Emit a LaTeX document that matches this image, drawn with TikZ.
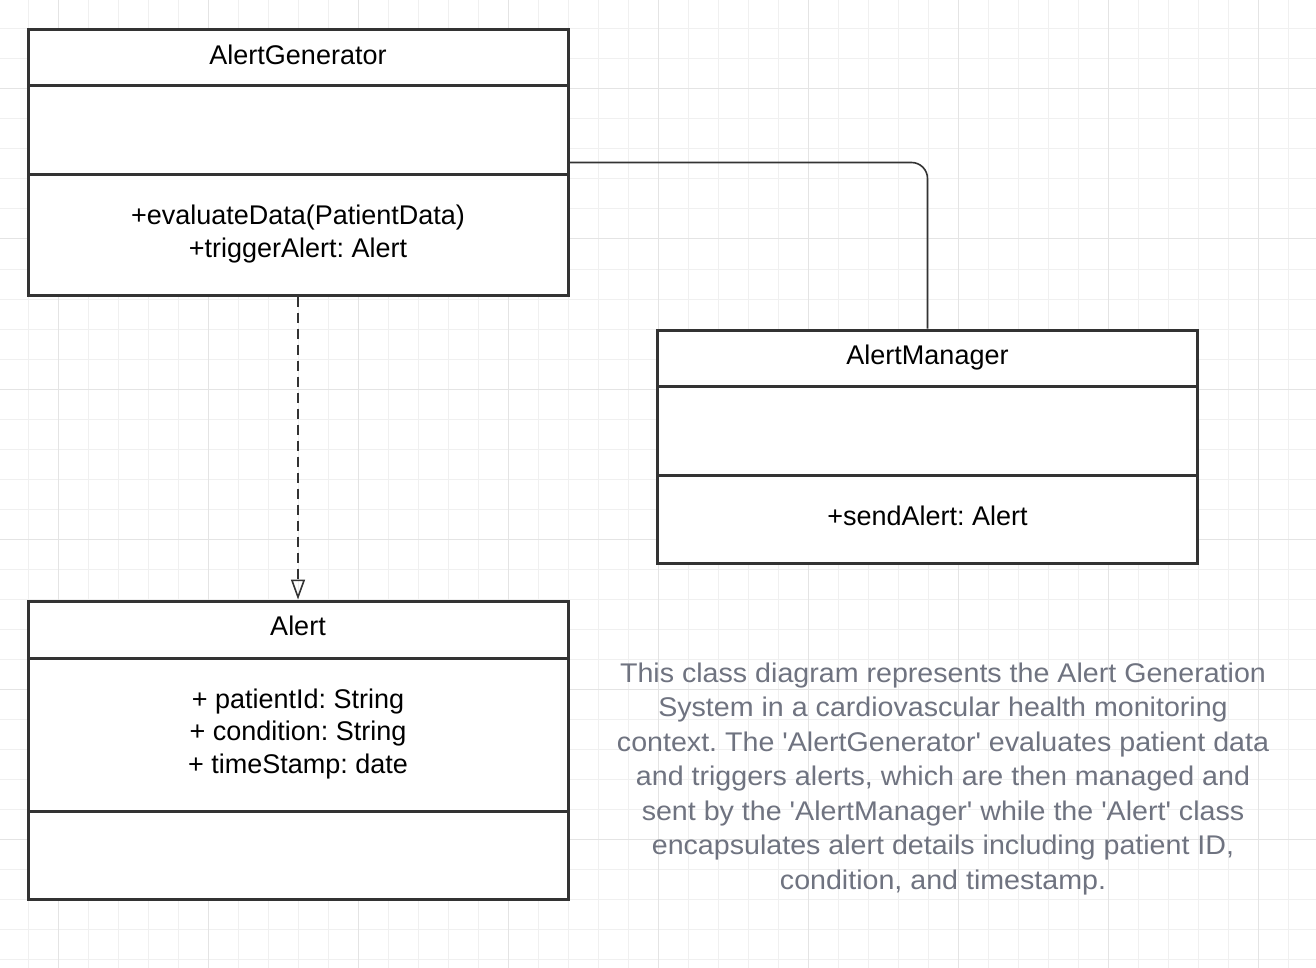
\documentclass[tikz,border=0pt]{standalone}
\usepackage{fontspec}
\setmainfont{Liberation Sans}
\newfontfamily\descfont[FakeStretch=1.06]{Liberation Sans}
\usetikzlibrary{arrows.meta}
\definecolor{gridminor}{HTML}{F0F0F0}
\definecolor{gridmajor}{HTML}{E4E4E4}
\definecolor{edge}{HTML}{333333}
\definecolor{desc}{HTML}{6F7380}
\frenchspacing
\tikzset{
  classbox/.style={draw=edge, line width=3pt, fill=white, minimum width=540pt, inner sep=0pt},
  divider/.style={draw=edge, line width=3pt},
  lbl/.style={font=\fontsize{27}{32}\selectfont, text=black, inner sep=0pt, align=center, yshift=-2.5pt},
  conn/.style={draw=edge, line width=1.6pt},
  depend/.style={draw=edge, line width=1.6pt, dash pattern=on 10pt off 6pt, -{Triangle[open, length=20pt, width=14pt, line width=1.6pt]}},
}
\begin{document}
\begin{tikzpicture}[x=1pt,y=-1pt]
\useasboundingbox (0,0) rectangle (1316,968);
\fill[white] (0,0) rectangle (1316,968);
% grid
\foreach \gx in {28,58,...,1316} \draw[gridminor, line width=1pt] (\gx,0) -- (\gx,968);
\foreach \gy in {29,59,...,968} \draw[gridminor, line width=1pt] (0,\gy) -- (1316,\gy);
\foreach \gx in {58,208,...,1316} \draw[gridmajor, line width=1pt] (\gx,0) -- (\gx,968);
\foreach \gy in {89,239,...,968} \draw[gridmajor, line width=1pt] (0,\gy) -- (1316,\gy);

% AlertGenerator
\node[classbox, minimum height=265pt] (gen) at (298,162.5) {};
\draw[divider] (28,86) -- (568,86);
\draw[divider] (28,175) -- (568,175);
\node[lbl, yshift=2.5pt] (genT) at (298,55) {AlertGenerator};
\node[lbl] (genM1) at (298,215) {+evaluateData(PatientData)};
\node[lbl] (genM2) at (298,248) {+triggerAlert: Alert};

% AlertManager
\node[classbox, minimum height=233pt] (mgr) at (927.5,446.5) {};
\draw[divider] (658,386) -- (1197,386);
\draw[divider] (658,475) -- (1197,475);
\node[lbl] (mgrT) at (927.5,355) {AlertManager};
\node[lbl, yshift=2.5pt] (mgrM1) at (927.5,516) {+sendAlert: Alert};

% Alert
\node[classbox, minimum height=298pt] (alert) at (298,750) {};
\draw[divider] (28,658) -- (568,658);
\draw[divider] (28,811) -- (568,811);
\node[lbl, yshift=2.5pt] (alT) at (298,626) {Alert};
\node[lbl] (alA1) at (298,699) {+ patientId: String};
\node[lbl] (alA2) at (298,731) {+ condition: String};
\node[lbl] (alA3) at (298,764) {+ timeStamp: date};

% connectors
\draw[conn, rounded corners=16pt] (gen.east) -| (mgr.north);
\draw[depend] (gen.south) -- (alert.north);

% description
\node[inner sep=0pt, align=center, text=desc, yshift=-3pt, font=\descfont\fontsize{27}{34.5}\selectfont] (desc) at (943,776)
{This class diagram represents the Alert Generation\\
System in a cardiovascular health monitoring\\
context. The 'AlertGenerator' evaluates patient data\\
and triggers alerts, which are then managed and\\
sent by the 'AlertManager' while the 'Alert' class\\
encapsulates alert details including patient ID,\\
condition, and timestamp.};
\end{tikzpicture}
\end{document}
